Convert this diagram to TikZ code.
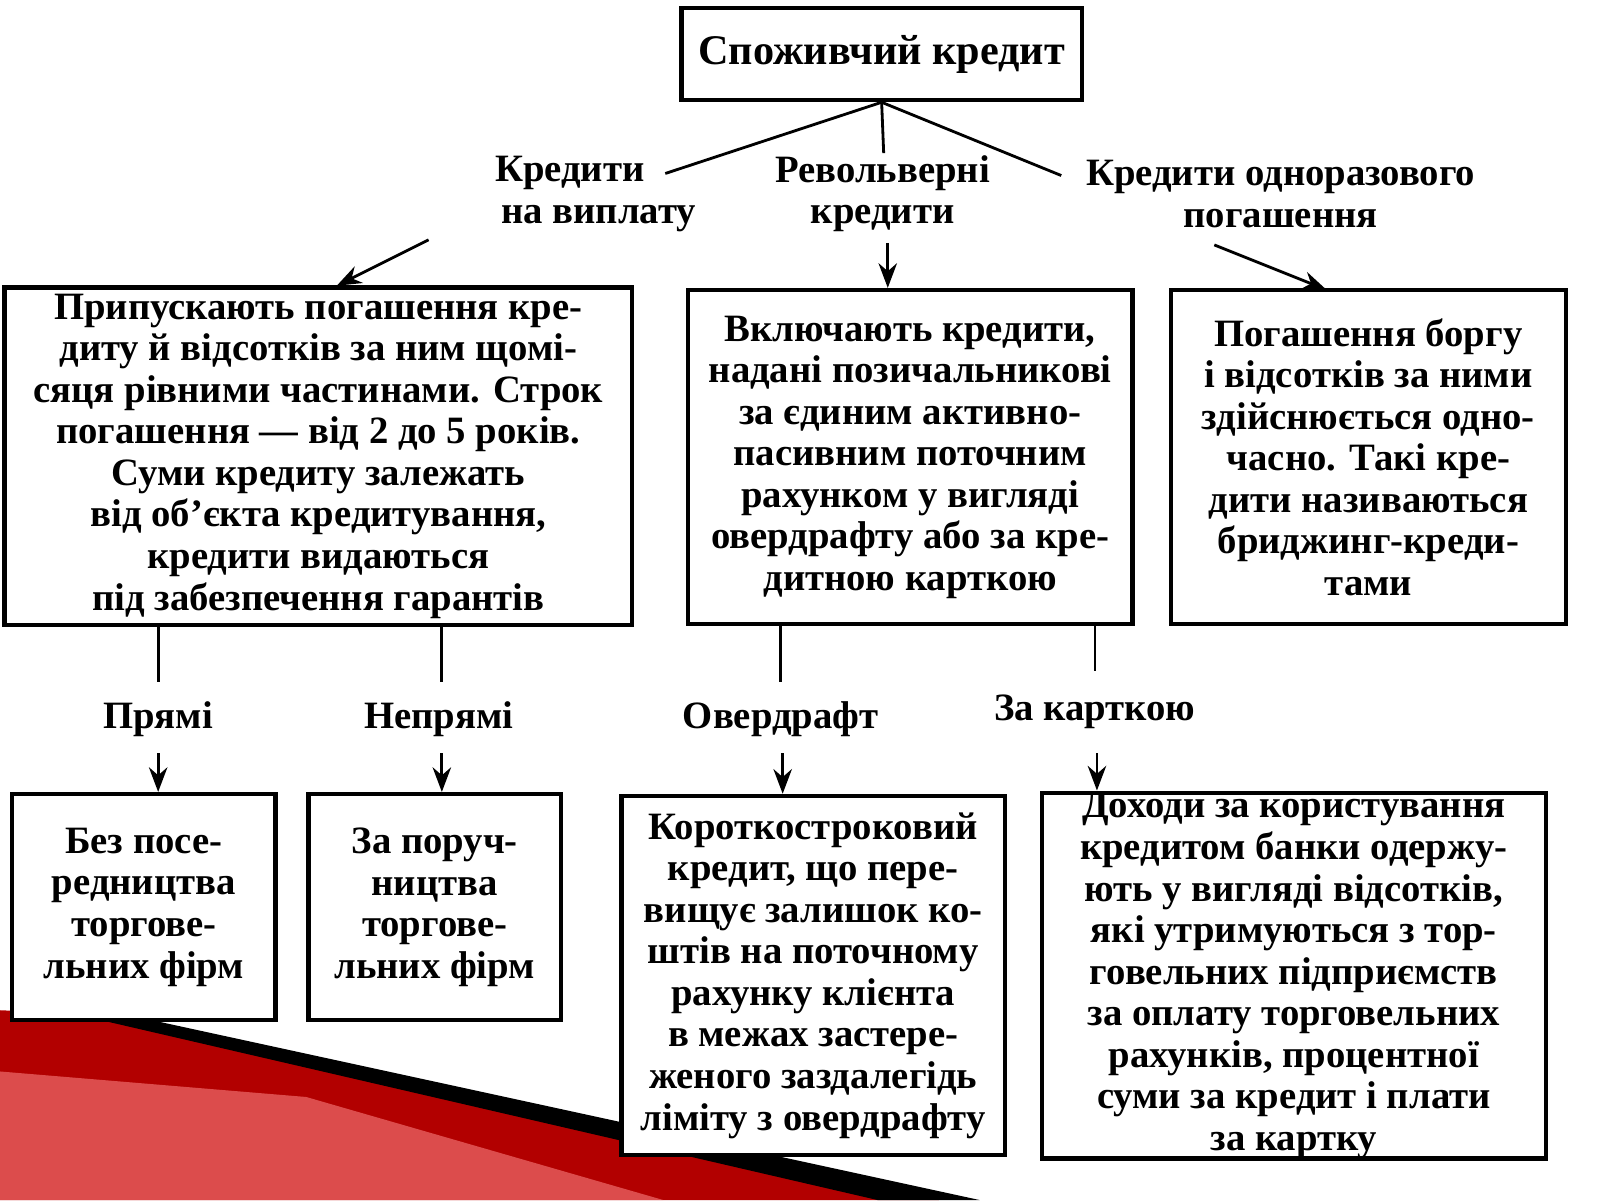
\documentclass[tikz,border=0pt]{standalone}
\usepackage{fontspec}
\setmainfont{Liberation Serif}
\usetikzlibrary{arrows.meta}
\begin{document}
\begin{tikzpicture}[x=0.0102cm, y=-0.0102cm, every node/.style={font=\bfseries\fontsize{11}{11.8}\selectfont, align=center},
  box/.style={draw, fill=white, line width=1.2pt, inner sep=0pt},
  lbl/.style={inner sep=1pt},
  link/.style={line width=0.8pt},
  arr/.style={line width=0.8pt, -{Stealth[length=7pt]}}]
  \useasboundingbox (0,0) rectangle (1568,1176);
  % Slide decoration
  \fill[red!70!black] (0,990) -- (70,993) -- (920,1176) -- (0,1176) -- cycle;
  \fill[red!45!white, opacity=0.55] (0,1050) -- (300,1075) -- (650,1176) -- (0,1176) -- cycle;
  \fill[black] (70,993) -- (150,1000) -- (960,1176) -- (860,1176) -- cycle;

  % Top node
  \node[box, minimum width=4.0cm, minimum height=0.92cm] (root) at (864,53) {\fontsize{12}{14}\selectfont Споживчий кредит};

  % Branch labels
  \node[lbl] (inst) at (530,190) {\hspace*{1.5em}Кредити\\ \hspace*{3em}на виплату};
  \node[lbl] (revl) at (865,190) {Револьверні\\кредити};
  \node[lbl] (once) at (1255,190) {Кредити одноразового\\погашення};
  \coordinate (instA) at (652,170);
  \coordinate (instB) at (420,235);
  \coordinate (revA) at (866,150);
  \coordinate (revB) at (870,238);
  \coordinate (onceA) at (1040,172);
  \coordinate (onceB) at (1190,240);

  % Middle boxes
  \node[box, minimum width=6.27cm, minimum height=3.37cm] (b1) at (312,447) {Припускають погашення кре-\\диту й відсотків за ним щомі-\\сяця рівними частинами. Строк\\погашення — від 2 до 5 років.\\Суми кредиту залежать\\від об'єкта кредитування,\\кредити видаються\\під забезпечення гарантів};
  \node[box, minimum width=4.44cm, minimum height=3.34cm] (b2) at (892,448) {Включають кредити,\\надані позичальникові\\за єдиним активно-\\пасивним поточним\\рахунком у вигляді\\овердрафту або за кре-\\дитною карткою};
  \node[box, minimum width=3.95cm, minimum height=3.34cm] (b3) at (1341,448) {Погашення боргу\\і відсотків за ними\\здійснюється одно-\\часно. Такі кре-\\дити називаються\\бриджинг-креди-\\тами};

  \draw[link] (root.south) -- (instA);
  \draw[link] (root.south) -- (revA);
  \draw[link] (root.south) -- (onceA);
  \draw[arr] (instB) -- (330,280);
  \draw[arr] (revB) -- (b2.north -| revB);
  \draw[arr] (onceB) -- (1300,284);

  % Lower labels
  \node[lbl] (pr) at (155,705) {Прямі};
  \node[lbl] (npr) at (430,705) {Непрямі};
  \node[lbl] (ov) at (765,705) {Овердрафт};
  \node[lbl] (card) at (1073,698) {За карткою};

  % Bottom boxes
  \node[box, minimum width=2.63cm, minimum height=2.26cm] (c1) at (141,889) {Без посе-\\редництва\\торгове-\\льних фірм};
  \node[box, minimum width=2.52cm, minimum height=2.26cm] (c2) at (426,889) {За поруч-\\ництва\\торгове-\\льних фірм};
  \node[box, minimum width=3.83cm, minimum height=3.59cm] (c3) at (797,956) {Короткостроковий\\кредит, що пере-\\вищує залишок ко-\\штів на поточному\\рахунку клієнта\\в межах застере-\\женого заздалегідь\\ліміту з овердрафту};
  \node[box, minimum width=5.03cm, minimum height=3.64cm] (c4) at (1268,956) {Доходи за користування\\кредитом банки одержу-\\ють у вигляді відсотків,\\які утримуються з тор-\\говельних підприємств\\за оплату торговельних\\рахунків, процентної\\суми за кредит і плати\\за картку};

  \foreach \x/\c in {155/c1, 433/c2}{
    \draw[link] (b1.south -| \x,0) -- (\x,668);
    \draw[arr] (\x,738) -- (\c.north -| \x,0);
  }
  \draw[link] (b2.south -| 765,0) -- (765,668);
  \draw[arr] (767,738) -- (c3.north -| 767,0);
  \draw[link] (b2.south -| 1073,0) -- (1073,658);
  \draw[arr] (1075,738) -- (c4.north -| 1075,0);
\end{tikzpicture}
\end{document}
